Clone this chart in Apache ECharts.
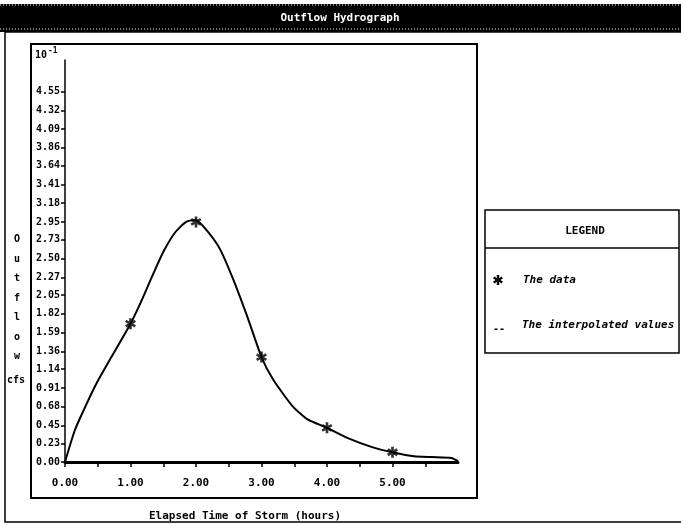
<!DOCTYPE html>
<html lang="en">
<head>
	<meta charset="UTF-8">
	<title>Outflow Hydrograph</title>
	<style>
		html, body { margin: 0; padding: 0; background: #fff; }
	</style>
</head>
<body>
	<div id="chart" style="width:681px;height:525px;"></div>
<script src="https://cdn.jsdelivr.net/npm/echarts@6/dist/echarts.min.js"></script>
<script>
// measured points (asterisks)
var dataHours = [1, 2, 3, 4, 5];
var dataFlow = [1.70, 2.95, 1.29, 0.42, 0.12];

// interpolated curve
var curveHours = [0, 0.15, 0.31, 0.49, 0.73, 1.0, 1.15, 1.33, 1.5, 1.68, 1.85, 2.0, 2.18, 2.37, 2.57, 2.79, 3.0, 3.18, 3.48, 3.71, 4.0, 4.3, 4.7, 5.0, 5.33, 5.6, 5.9, 6.0];
var curveFlow = [0, 0.39, 0.68, 0.98, 1.32, 1.70, 1.95, 2.28, 2.58, 2.82, 2.95, 2.97, 2.83, 2.61, 2.24, 1.77, 1.29, 1.01, 0.68, 0.52, 0.42, 0.30, 0.18, 0.12, 0.07, 0.06, 0.05, 0.01];

// axis ticks
var yTickLabels = ['0.00','0.23','0.45','0.68','0.91','1.14','1.36','1.59','1.82','2.05','2.27','2.50','2.73','2.95','3.18','3.41','3.64','3.86','4.09','4.32','4.55'];
var xTickValues = [0, 0.5, 1, 1.5, 2, 2.5, 3, 3.5, 4, 4.5, 5, 5.5];
var xLabelValues = [0, 1, 2, 3, 4, 5];

var FONT = 'DejaVu Sans Mono';
var STAR = 'path://M-1.2,-5L1.2,-5L1.2,5L-1.2,5ZM3.73,-3.54L4.93,-1.46L-3.73,3.54L-4.93,1.46ZM-4.93,-1.46L-3.73,-3.54L4.93,1.46L3.73,3.54Z';

function pairs(xs, ys) {
  var out = [];
  for (var i = 0; i < xs.length; i++) out.push([xs[i], ys[i]]);
  return out;
}

// asterisk for the legend box, three crossed bars
function legendStar(cx, cy) {
  var bars = [0, Math.PI / 3, -Math.PI / 3].map(function (r) {
    return { type: 'rect', z: 8, rotation: r, shape: { x: -1.2, y: -5, width: 2.4, height: 10 }, style: { fill: '#000' } };
  });
  return { type: 'group', x: cx, y: cy, z: 8, children: bars };
}

var chart = echarts.init(document.getElementById('chart'));

var option = {
  animation: false,
  backgroundColor: '#fff',
  grid: { left: 65, right: 223, top: 60, bottom: 63 },
  xAxis: {
    type: 'value',
    min: 0,
    max: 6,
    splitLine: { show: false },
    axisLine: { lineStyle: { color: '#000', width: 3 } },
    axisTick: {
      length: 5,
      customValues: xTickValues,
      lineStyle: { color: '#000', width: 1.5 }
    },
    axisLabel: {
      customValues: xLabelValues,
      margin: 16,
      color: '#000',
      fontFamily: FONT,
      fontWeight: 'bold',
      fontSize: 11,
      formatter: function (v) { return v.toFixed(2); }
    }
  },
  yAxis: {
    type: 'value',
    min: 0,
    max: 4.94,
    splitLine: { show: false },
    axisLine: { lineStyle: { color: '#000', width: 1.5 } },
    axisTick: {
      length: 4,
      customValues: yTickLabels.map(Number),
      lineStyle: { color: '#000', width: 1.5 }
    },
    axisLabel: {
      customValues: yTickLabels.map(Number),
      margin: 5,
      color: '#000',
      fontFamily: FONT,
      fontWeight: 'bold',
      fontSize: 10,
      formatter: function (v) { return v.toFixed(2); }
    }
  },
  series: [
    {
      name: 'The interpolated values',
      type: 'line',
      data: pairs(curveHours, curveFlow),
      smooth: 0.2,
      showSymbol: false,
      lineStyle: { color: '#000', width: 2 },
      z: 2
    },
    {
      name: 'The data',
      type: 'scatter',
      data: pairs(dataHours, dataFlow),
      symbol: STAR,
      symbolSize: 11,
      itemStyle: { color: '#000' },
      z: 3
    }
  ],
  graphic: [
    // title band
    { type: 'rect', shape: { x: 0, y: 4, width: 681, height: 28 }, style: { fill: '#000' }, z: 10 },
    { type: 'line', shape: { x1: 0, y1: 5, x2: 681, y2: 5 }, style: { stroke: '#fff', lineWidth: 1, lineDash: [1, 2] }, z: 11 },
    { type: 'line', shape: { x1: 0, y1: 29, x2: 681, y2: 29 }, style: { stroke: '#fff', lineWidth: 1, lineDash: [1, 2] }, z: 11 },
    { type: 'text', x: 340, y: 18, z: 12,
      style: { text: 'Outflow Hydrograph', fill: '#fff', font: 'bold 11px "DejaVu Sans Mono"', align: 'center', verticalAlign: 'middle' } },
    // outer frame
    { type: 'rect', shape: { x: 5, y: 32, width: 700, height: 490 }, style: { fill: null, stroke: '#000', lineWidth: 1.5 }, z: 1 },
    // plot box
    { type: 'rect', shape: { x: 31, y: 44, width: 446, height: 454 }, style: { fill: null, stroke: '#000', lineWidth: 2 }, z: 1 },
    // exponent
    { type: 'text', x: 35, y: 55,
      style: { text: '10{s|-1}', rich: { s: { fontSize: 8, verticalAlign: 'top', padding: [0, 0, 8, 1], fontFamily: FONT, fontWeight: 'bold' } },
               fill: '#000', font: 'bold 10px "DejaVu Sans Mono"', verticalAlign: 'middle' } },
    // y axis name
    { type: 'text', x: 17, y: 230,
      style: { text: 'O\nu\nt\nf\nl\no\nw', fill: '#000', font: 'bold 10px "DejaVu Sans Mono"', lineHeight: 19.5, align: 'center', verticalAlign: 'top' } },
    { type: 'text', x: 16, y: 380,
      style: { text: 'cfs', fill: '#000', font: 'bold 10px "DejaVu Sans Mono"', align: 'center', verticalAlign: 'middle' } },
    // x axis name
    { type: 'text', x: 245, y: 516,
      style: { text: 'Elapsed Time of Storm (hours)', fill: '#000', font: 'bold 11px "DejaVu Sans Mono"', align: 'center', verticalAlign: 'middle' } },
    // legend box
    { type: 'rect', shape: { x: 485, y: 210, width: 194, height: 143 }, style: { fill: '#fff', stroke: '#000', lineWidth: 1.5 }, z: 5 },
    { type: 'line', shape: { x1: 485, y1: 248, x2: 679, y2: 248 }, style: { stroke: '#000', lineWidth: 1.5 }, z: 6 },
    { type: 'text', x: 585, y: 231, z: 6,
      style: { text: 'LEGEND', fill: '#000', font: 'bold 11px "DejaVu Sans Mono"', align: 'center', verticalAlign: 'middle' } },
    legendStar(498, 280),
    { type: 'text', x: 523, y: 280, z: 6,
      style: { text: 'The data', fill: '#000', font: 'italic bold 11px "DejaVu Sans Mono"', verticalAlign: 'middle' } },
    { type: 'text', x: 493, y: 329, z: 6,
      style: { text: '--', fill: '#000', font: 'bold 10px "DejaVu Sans Mono"', verticalAlign: 'middle' } },
    { type: 'text', x: 522, y: 325, z: 6,
      style: { text: 'The interpolated values', fill: '#000', font: 'italic bold 11px "DejaVu Sans Mono"', verticalAlign: 'middle' } }
  ]
};

chart.setOption(option);
</script>
</body>
</html>
